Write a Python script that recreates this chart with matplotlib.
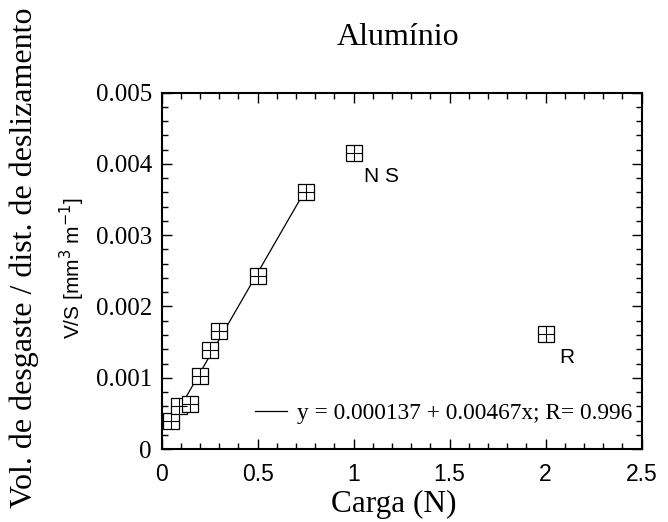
import numpy as np
import matplotlib.pyplot as plt
from matplotlib.ticker import MultipleLocator

# Data
carga = [0.05, 0.09, 0.15, 0.20, 0.25, 0.30, 0.50, 0.75]
vs = [0.00040, 0.00060, 0.00063, 0.00102, 0.00139, 0.00165, 0.00243, 0.00361]
ns_x, ns_y = 1.0, 0.00415
r_x, r_y = 2.0, 0.00162

# linear fit shown in the legend
fit_a = 0.000137
fit_b = 0.00467
fit_x = [0.09, 0.75]

xticks = [0, 0.5, 1, 1.5, 2, 2.5]
xticklabels = ['0', '0.5', '1', '1.5', '2', '2.5']
yticks = [0, 0.001, 0.002, 0.003, 0.004, 0.005]
yticklabels = ['0', '0.001', '0.002', '0.003', '0.004', '0.005']

SERIF = 'Liberation Serif'
SANS = 'Liberation Sans'

fig = plt.figure(figsize=(6.68, 5.22), dpi=100)
ax = fig.add_axes([0.242, 0.1398, 0.7186, 0.6826])

fx = np.array(fit_x)
ax.plot(fx, fit_a + fit_b * fx, '-', color='black', lw=0.9,
        label="y = 0.000137 + 0.00467x; R= 0.996")

all_x = carga + [ns_x, r_x]
all_y = vs + [ns_y, r_y]
ax.plot(all_x, all_y, 's', ms=11.5, mfc='white', mec='black', mew=0.9, zorder=3)
ax.plot(all_x, all_y, '+', ms=11.5, color='black', mew=0.8, zorder=4)

ax.annotate("N S", (ns_x, ns_y), xytext=(20, -17), textcoords='offset points',
            ha='center', va='center', fontsize=15, family=SANS)
ax.annotate("R", (r_x, r_y), xytext=(15, -17), textcoords='offset points',
            ha='center', va='center', fontsize=15, family=SANS)

ax.set_xlim(0, 2.5)
ax.set_ylim(0, 0.005)
ax.set_xticks(xticks)
ax.set_xticklabels(xticklabels, family=SANS)
ax.set_yticks(yticks)
ax.set_yticklabels(yticklabels, family=SERIF)
ax.xaxis.set_minor_locator(MultipleLocator(0.1))
ax.yaxis.set_minor_locator(MultipleLocator(0.0002))

ax.tick_params(which='both', direction='in', top=True, right=True, width=1)
ax.tick_params(which='major', length=7)
ax.tick_params(which='minor', length=4)
ax.tick_params(axis='x', pad=10, labelsize=16.5)
ax.tick_params(axis='y', pad=7, labelsize=18)
for sp in ax.spines.values():
    sp.set_linewidth(1.5)

ax.legend(loc='center right', bbox_to_anchor=(0.98, 0.101), frameon=False,
          prop={'family': SERIF, 'size': 16.8}, handlelength=1.4,
          handletextpad=0.4, borderpad=0, borderaxespad=0)

fig.text(0.108, 0.487, "V/S [mm$^3$ m$^{-1}$]", rotation=90, ha='center',
         va='center', fontsize=15, family=SANS)
fig.text(0.037, 0.506, "Vol. de desgaste / dist. de deslizamento", rotation=90,
         ha='center', va='center', fontsize=23, family=SERIF)
fig.text(0.596, 0.929, "Alumínio", ha='center', va='center', fontsize=23,
         family=SERIF)
fig.text(0.590, 0.034, "Carga (N)", ha='center', va='center', fontsize=22.5,
         family=SERIF)

fig.savefig("out.png", dpi=100)
